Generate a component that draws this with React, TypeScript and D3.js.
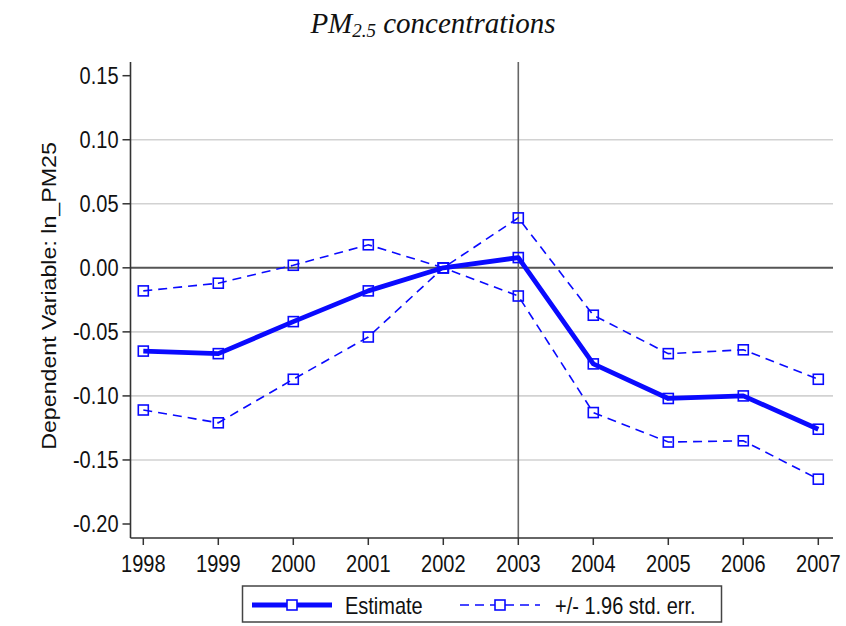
import React from "react";
import * as d3 from "d3";

const years = [1998, 1999, 2000, 2001, 2002, 2003, 2004, 2005, 2006, 2007];
const estimate = [-0.065, -0.067, -0.042, -0.018, 0.0, 0.008, -0.075, -0.102, -0.1, -0.126];
const upper = [-0.018, -0.012, 0.002, 0.018, 0.0, 0.039, -0.037, -0.067, -0.064, -0.087];
const lower = [-0.111, -0.121, -0.087, -0.054, 0.0, -0.022, -0.113, -0.136, -0.135, -0.165];
const yTicks = [0.15, 0.1, 0.05, 0.0, -0.05, -0.1, -0.15, -0.2];
const gridTicks = [0.1, 0.05, -0.05, -0.1, -0.15];
const eventYear = 2003;

const W = 846;
const H = 626;
const BLUE = "#0a0aff";
const SY = 1.16; // vertical stretch of the text in the reference

export default function App() {
  const x = d3.scaleLinear().domain([1998, 2007]).range([143.3, 818.3]);
  const y = d3.scaleLinear().domain([0.15, -0.2]).range([75.7, 524]);
  const left = 130.5;
  const right = 833;
  const top = 62;
  const bottom = 538;

  const line = d3
    .line<number>()
    .x((_, i) => x(years[i]))
    .y((d) => y(d));

  const sq = 10;
  const markers = (vals: number[], key: string) =>
    vals.map((v, i) => (
      <rect
        key={key + i}
        x={x(years[i]) - sq / 2}
        y={y(v) - sq / 2}
        width={sq}
        height={sq}
        fill="none"
        stroke={BLUE}
        strokeWidth={1.6}
      />
    ));

  const font = "'Liberation Sans', Arial, sans-serif";
  const fs = 20;

  const T = (props: { x: number; y: number; anchor?: string; children: React.ReactNode; size?: number }) => (
    <text
      transform={`translate(${props.x},${props.y}) scale(1,${SY})`}
      textAnchor={props.anchor || "start"}
      fontFamily={font}
      fontSize={props.size || fs}
      fill="#111"
    >
      {props.children}
    </text>
  );

  return (
    <svg
      width={W}
      height={H}
      style={{ position: "absolute", left: 0, top: 0, background: "#fff" }}
    >
      <rect width={W} height={H} fill="#fff" />
      {/* Title */}
      <text
        x={433}
        y={33}
        textAnchor="middle"
        fontFamily="'Liberation Serif', 'DejaVu Serif', serif"
        fontStyle="italic"
        fontSize={29}
        fill="#111"
      >
        PM
        <tspan fontSize={19} dy={4}>
          2.5
        </tspan>
        <tspan dy={-4}> concentrations</tspan>
      </text>

      {/* gridlines */}
      {gridTicks.map((t) => (
        <line
          key={"g" + t}
          x1={left}
          x2={right}
          y1={y(t)}
          y2={y(t)}
          stroke="#d2d2d2"
          strokeWidth={1.6}
        />
      ))}
      {/* zero line */}
      <line x1={left} x2={right} y1={y(0)} y2={y(0)} stroke="#555" strokeWidth={2} />
      {/* event vertical line */}
      <line
        x1={x(eventYear)}
        x2={x(eventYear)}
        y1={top}
        y2={bottom}
        stroke="#666"
        strokeWidth={1.6}
      />

      {/* axes */}
      <line x1={left} x2={left} y1={top} y2={bottom} stroke="#333" strokeWidth={1.6} />
      <line x1={left} x2={right} y1={bottom} y2={bottom} stroke="#333" strokeWidth={1.6} />
      {yTicks.map((t) => (
        <g key={"yt" + t}>
          <line x1={left - 8} x2={left} y1={y(t)} y2={y(t)} stroke="#333" strokeWidth={1.5} />
          <T x={left - 12} y={y(t) + 0.358 * fs * SY} anchor="end">
            {d3.format(".2f")(t).replace("−", "-")}
          </T>
        </g>
      ))}
      {years.map((yr) => (
        <g key={"xt" + yr}>
          <line x1={x(yr)} x2={x(yr)} y1={bottom} y2={bottom + 7} stroke="#333" strokeWidth={1.5} />
          <T x={x(yr)} y={572} anchor="middle">
            {yr}
          </T>
        </g>
      ))}
      <text
        transform={`translate(56,296) scale(1,${SY}) rotate(-90)`}
        textAnchor="middle"
        fontFamily={font}
        fontSize={20}
        fill="#111"
      >
        Dependent Variable: ln_PM25
      </text>

      {/* series */}
      <path d={line(upper) || ""} fill="none" stroke={BLUE} strokeWidth={1.6} strokeDasharray="9,6" />
      <path d={line(lower) || ""} fill="none" stroke={BLUE} strokeWidth={1.6} strokeDasharray="9,6" />
      <path d={line(estimate) || ""} fill="none" stroke={BLUE} strokeWidth={4.8} strokeLinejoin="round" />
      {markers(upper, "u")}
      {markers(lower, "l")}
      {markers(estimate, "e")}

      {/* legend */}
      <rect x={242.5} y={586} width={479} height={36} fill="#fff" stroke="#444" strokeWidth={1.5} />
      <line x1={252} x2={332} y1={605} y2={605} stroke={BLUE} strokeWidth={4.8} />
      <rect x={287} y={600} width={10} height={10} fill="#fff" stroke={BLUE} strokeWidth={1.6} />
      <T x={345} y={614}>Estimate</T>
      <line x1={460} x2={540} y1={605} y2={605} stroke={BLUE} strokeWidth={1.6} strokeDasharray="9,6" />
      <rect x={495} y={600} width={10} height={10} fill="#fff" stroke={BLUE} strokeWidth={1.6} />
      <T x={555} y={614}>+/- 1.96 std. err.</T>
    </svg>
  );
}
